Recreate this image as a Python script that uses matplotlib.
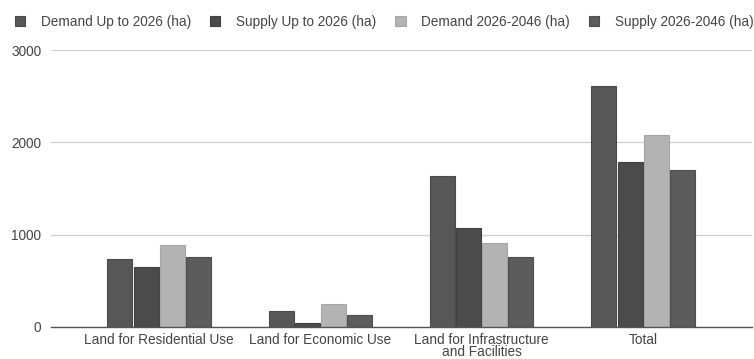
import matplotlib
matplotlib.use("Agg")
import matplotlib.pyplot as plt
import numpy as np

categories = ["Land for Residential Use", "Land for Economic Use",
              "Land for Infrastructure\nand Facilities", "Total"]
series_names = ["Demand Up to 2026 (ha)", "Supply Up to 2026 (ha)",
                "Demand 2026-2046 (ha)", "Supply 2026-2046 (ha)"]
demand_2026 = [740, 175, 1640, 2615]
supply_2026 = [650, 40, 1070, 1790]
demand_2046 = [885, 245, 910, 2080]
supply_2046 = [755, 125, 755, 1695]
y_ticks = [0, 1000, 2000, 3000]

colors = ["#575757", "#4b4b4b", "#b3b3b3", "#5c5c5c"]
edge_colors = ["#4a4a4a", "#404040", "#a5a5a5", "#4e4e4e"]
text_color = "#444444"
fs = 9.8

plt.rcParams["font.family"] = ["Liberation Sans", "DejaVu Sans"]

fig = plt.figure(figsize=(7.54, 3.59), dpi=100)
ax = fig.add_axes([51 / 754, 1 - 327 / 359, (752 - 51) / 754, (327 - 50) / 359])

x = np.arange(len(categories))
values = [demand_2026, supply_2026, demand_2046, supply_2046]
bw = 0.155
gap = 0.007
for i, (vals, name) in enumerate(zip(values, series_names)):
    off = (i - 1.5) * (bw + gap)
    ax.bar(x + off, vals, width=bw, color=colors[i], edgecolor=edge_colors[i],
           linewidth=0.8, label=name, zorder=3)

ax.set_xlim(-0.67, 3.675)
ax.set_ylim(0, 3000)
ax.set_yticks(y_ticks)
ax.set_yticklabels([str(t) for t in y_ticks], fontsize=fs, color=text_color)
ax.set_xticks(x)
ax.set_xticklabels(categories, fontsize=fs, color=text_color, linespacing=0.8)
ax.tick_params(axis="both", length=0)
ax.tick_params(axis="y", pad=7)
ax.tick_params(axis="x", pad=4.5)

ax.grid(axis="y", color="#cfcfcf", linewidth=0.9, zorder=0)
for s in ["top", "right", "left"]:
    ax.spines[s].set_visible(False)
ax.spines["bottom"].set_color("#555555")
ax.spines["bottom"].set_linewidth(1.0)
ax.spines["bottom"].set_zorder(4)

leg = fig.legend(loc="center left", bbox_to_anchor=(15 / 754, 1 - 22 / 359), ncol=4,
                 frameon=False, fontsize=fs, handlelength=0.75, handleheight=0.75,
                 handletextpad=1.15, columnspacing=1.4, borderaxespad=0,
                 borderpad=0)
for t in leg.get_texts():
    t.set_color(text_color)

fig.savefig("out.png", dpi=100, facecolor="white")
